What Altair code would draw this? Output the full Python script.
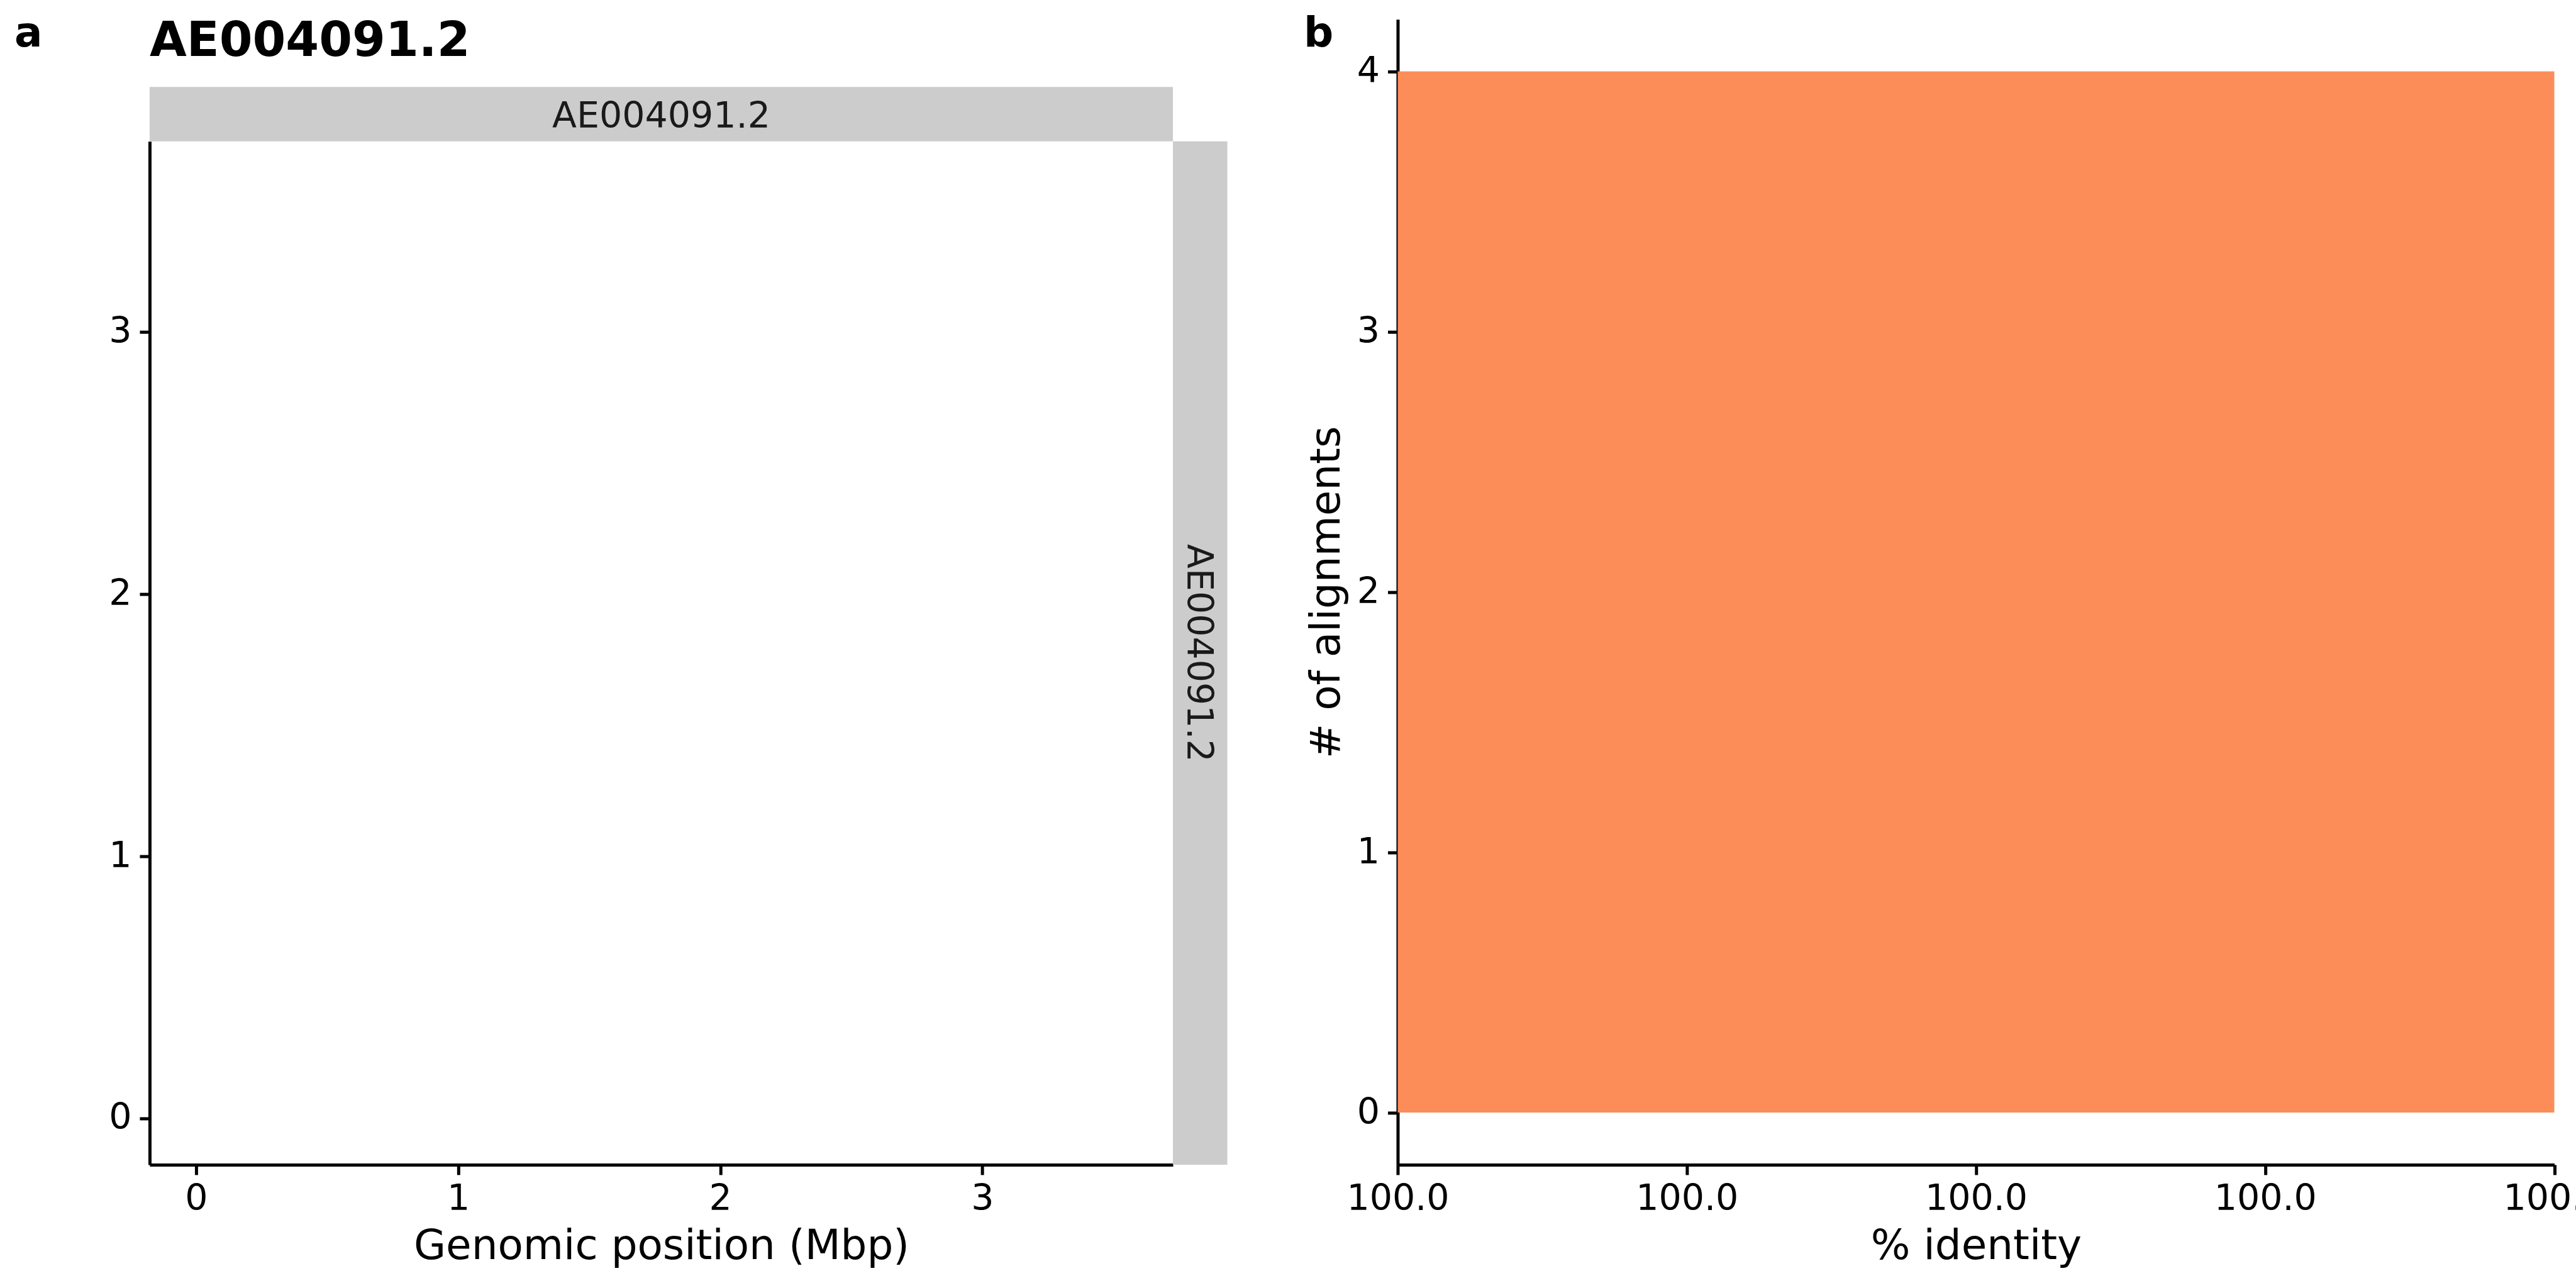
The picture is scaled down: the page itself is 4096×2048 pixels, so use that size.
import altair as alt
import pandas as pd

# ---------------- data ----------------
genome_name = ["AE004091.2"]
genome_length_mbp = [3.55]
panel_tags = ["a", "b"]
identity_values = [100.0, 100.0, 100.0, 100.0]
hist_bin_edges = [99.98, 100.02]
identity_ticks = [99.98, 99.99, 100.0, 100.01, 100.02]
position_ticks = [0, 1, 2, 3]
count_ticks = [0, 1, 2, 3, 4]

# ---------------- layout / style ----------------
FONT = "DejaVu Sans"
H = 1821.5          # group height of both panels
WA = 1627.5         # panel a plot width (square)
WB = 1839.5         # panel b plot width
A_TOP = H - WA      # top of panel a plot inside its group
STRIP = 86.5
SPACING = 357
STRIP_FILL = "#CCCCCC"
BAR_FILL = "#FC8D59"

L = genome_length_mbp[0]
pos_domain = [-0.05 * L, 1.05 * L]

extent_df = pd.DataFrame({"x": [0.0, L], "y": [0.0, L]})
name_df = pd.DataFrame({"name": genome_name})
tag_a_df = pd.DataFrame({"tag": [panel_tags[0]]})
tag_b_df = pd.DataFrame({"tag": [panel_tags[1]]})

counts = [sum(1 for v in identity_values if hist_bin_edges[0] <= v <= hist_bin_edges[1])]
hist_df = pd.DataFrame({"start": hist_bin_edges[:-1], "end": hist_bin_edges[1:], "count": counts})
cmax = max(count_ticks)
count_domain = [-0.05 * cmax, 1.05 * cmax]

# ---------------- panel a ----------------
extent_pts = alt.Chart(extent_df).mark_point(opacity=0).encode(
    x=alt.X("x:Q",
            scale=alt.Scale(domain=pos_domain, nice=False, zero=False),
            axis=alt.Axis(values=position_ticks, format="d", title="Genomic position (Mbp)",
                          labelPadding=11, titleY=150, titleBaseline="alphabetic")),
    y=alt.Y("y:Q",
            scale=alt.Scale(domain=pos_domain, nice=False, zero=False, range=[H, A_TOP]),
            axis=alt.Axis(values=position_ticks, format="d", title=None, labelPadding=13)),
)

strip_top = alt.Chart(name_df).mark_rect(color=STRIP_FILL).encode(
    x=alt.value(0), x2=alt.value(WA), y=alt.value(A_TOP - STRIP), y2=alt.value(A_TOP)
)
strip_right = alt.Chart(name_df).mark_rect(color=STRIP_FILL).encode(
    x=alt.value(WA), x2=alt.value(WA + STRIP), y=alt.value(A_TOP), y2=alt.value(H)
)
strip_top_text = alt.Chart(name_df).mark_text(
    font=FONT, fontSize=57, color="#1A1A1A", align="center", baseline="alphabetic"
).encode(text="name:N", x=alt.value(WA / 2), y=alt.value(172))
strip_right_text = alt.Chart(name_df).mark_text(
    font=FONT, fontSize=57, color="#1A1A1A", align="center", baseline="alphabetic", angle=90
).encode(text="name:N", x=alt.value(WA + 22.7), y=alt.value(A_TOP + WA / 2))
title_text = alt.Chart(name_df).mark_text(
    font=FONT, fontSize=76, fontWeight="bold", color="black", align="left", baseline="alphabetic"
).encode(text="name:N", x=alt.value(0), y=alt.value(58.2))
tag_a = alt.Chart(tag_a_df).mark_text(
    font=FONT, fontSize=66, fontWeight="bold", color="black", align="left", baseline="alphabetic"
).encode(text="tag:N", x=alt.value(-215), y=alt.value(43.4))

panel_a = alt.layer(
    extent_pts, strip_top, strip_right, strip_top_text, strip_right_text, title_text, tag_a
).properties(width=WA, height=H)

# ---------------- panel b ----------------
bars = alt.Chart(hist_df).mark_bar(color=BAR_FILL, strokeWidth=0).encode(
    x=alt.X("start:Q",
            scale=alt.Scale(domain=[hist_bin_edges[0], hist_bin_edges[-1]], nice=False, zero=False),
            axis=alt.Axis(values=identity_ticks, format=".1f", title="% identity",
                          labelPadding=11, titleY=150, titleBaseline="alphabetic")),
    x2="end:Q",
    y=alt.Y("count:Q",
            scale=alt.Scale(domain=count_domain, nice=False, zero=False),
            axis=alt.Axis(values=count_ticks, format="d", title="# of alignments",
                          labelPadding=13, titleX=-93, titleAngle=270,
                          titleBaseline="alphabetic")),
    y2=alt.datum(0),
)
tag_b = alt.Chart(tag_b_df).mark_text(
    font=FONT, fontSize=66, fontWeight="bold", color="black", align="left", baseline="alphabetic"
).encode(text="tag:N", x=alt.value(-149.5), y=alt.value(43.4))

panel_b = alt.layer(bars, tag_b).properties(width=WB, height=H)

# ---------------- assemble ----------------
chart = alt.hconcat(panel_a, panel_b, spacing=SPACING, bounds="flush").properties(
    padding={"left": 23, "top": 20.6, "right": -48, "bottom": 24},
    background="white",
).configure_view(strokeWidth=0).configure_axis(
    domainColor="black", domainWidth=5, tickColor="black", tickWidth=5, tickSize=16,
    labelColor="black", labelFontSize=57, labelFont=FONT,
    titleFont=FONT, titleFontSize=66, titleColor="black", titleFontWeight="normal",
    grid=False, labelFlush=False, labelOverlap=False,
)

chart.save("out.html", embed_options={"renderer": "svg", "actions": False})
